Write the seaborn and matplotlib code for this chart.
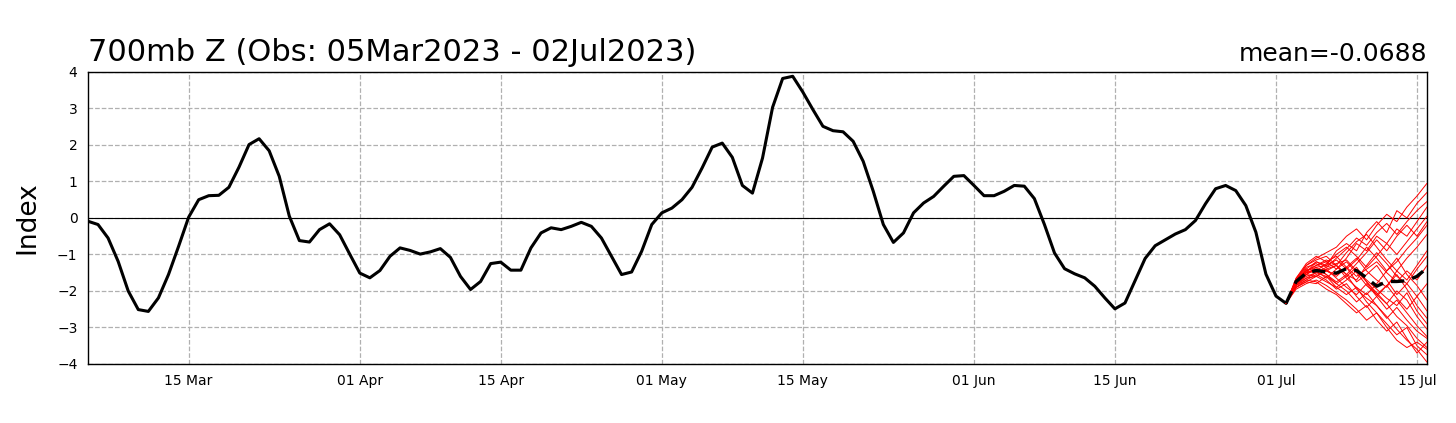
import numpy as np
import pandas as pd
import matplotlib
matplotlib.use('Agg')
import matplotlib.pyplot as plt
import matplotlib.dates as mdates
import seaborn as sns

# observed daily index, 05Mar2023 .. 02Jul2023
obs_start = '2023-03-05'
obs_values = [
    -0.09, -0.18, -0.55, -1.19, -2.00, -2.51, -2.56, -2.19, -1.55, -0.78,
    0.02, 0.50, 0.61, 0.62, 0.84, 1.39, 2.01, 2.17, 1.84, 1.14,
    0.05, -0.62, -0.66, -0.32, -0.16, -0.46, -0.99, -1.51, -1.64, -1.44,
    -1.05, -0.82, -0.89, -0.99, -0.93, -0.84, -1.08, -1.60, -1.96, -1.74,
    -1.25, -1.21, -1.43, -1.43, -0.82, -0.41, -0.27, -0.32, -0.23, -0.12,
    -0.23, -0.55, -1.05, -1.55, -1.48, -0.91, -0.18, 0.14, 0.27, 0.50,
    0.84, 1.37, 1.94, 2.05, 1.66, 0.89, 0.68, 1.64, 3.03, 3.82,
    3.88, 3.45, 2.97, 2.51, 2.39, 2.36, 2.10, 1.55, 0.73, -0.18,
    -0.67, -0.41, 0.14, 0.41, 0.59, 0.87, 1.14, 1.16, 0.89, 0.61,
    0.61, 0.73, 0.89, 0.87, 0.53, -0.18, -0.96, -1.39, -1.53, -1.64,
    -1.87, -2.19, -2.49, -2.33, -1.72, -1.11, -0.76, -0.60, -0.44, -0.32,
    -0.07, 0.39, 0.80, 0.89, 0.75, 0.34, -0.39, -1.54, -2.14, -2.34,
]

# forecast ensemble, 02Jul2023 .. 16Jul2023
fc_start = '2023-07-02'
ens_mean = [-2.34, -1.74, -1.51, -1.44, -1.48, -1.51, -1.39, -1.44,
            -1.64, -1.87, -1.74, -1.74, -1.72, -1.60, -1.37]
members = [
    [-2.34, -1.70, -1.30, -1.10, -0.95, -0.80, -0.50, -0.30, -0.60, -0.20, 0.10, -0.10, 0.30, 0.60, 0.95],
    [-2.34, -1.80, -1.50, -1.20, -1.30, -0.90, -0.70, -0.90, -0.40, -0.10, -0.40, 0.20, 0.00, 0.40, 0.70],
    [-2.34, -1.65, -1.25, -1.05, -1.20, -1.40, -1.10, -0.70, -0.90, -0.50, -0.70, -0.30, -0.50, -0.10, 0.30],
    [-2.34, -1.90, -1.75, -1.80, -1.60, -1.90, -2.10, -1.90, -2.30, -2.60, -2.90, -3.20, -3.00, -3.50, -3.75],
    [-2.34, -1.95, -1.80, -1.70, -1.85, -2.05, -2.25, -2.50, -2.80, -2.60, -3.00, -3.35, -3.55, -3.40, -3.60],
    [-2.34, -1.80, -1.50, -1.45, -1.65, -1.40, -1.20, -1.50, -1.85, -2.10, -2.35, -2.70, -2.95, -3.30, -3.55],
    [-2.34, -1.75, -1.45, -1.30, -1.20, -1.05, -1.35, -1.75, -1.55, -1.30, -1.70, -2.10, -1.80, -1.40, -1.05],
    [-2.34, -1.85, -1.70, -1.55, -1.70, -1.95, -1.80, -2.15, -2.45, -2.15, -1.85, -2.20, -2.50, -2.15, -1.80],
    [-2.34, -1.70, -1.35, -1.25, -1.45, -1.60, -1.35, -1.10, -1.45, -1.70, -1.90, -1.45, -1.10, -0.80, -0.45],
    [-2.34, -1.80, -1.55, -1.35, -1.55, -1.75, -1.55, -1.95, -2.20, -2.40, -2.75, -2.45, -2.80, -3.10, -3.30],
    [-2.34, -1.75, -1.40, -1.45, -1.25, -1.00, -0.80, -1.05, -1.35, -1.05, -0.70, -1.00, -0.65, -0.30, 0.05],
    [-2.34, -1.90, -1.75, -1.60, -1.45, -1.30, -1.65, -1.90, -2.10, -1.80, -1.45, -1.10, -1.55, -1.85, -2.25],
    [-2.34, -1.80, -1.60, -1.50, -1.35, -1.25, -1.15, -1.45, -1.70, -1.95, -2.20, -2.40, -2.05, -2.55, -2.90],
    [-2.34, -1.70, -1.45, -1.50, -1.40, -1.30, -0.95, -0.65, -0.45, -0.80, -1.15, -1.45, -1.70, -1.30, -0.90],
    [-2.34, -1.85, -1.65, -1.50, -1.60, -1.80, -2.00, -2.30, -2.05, -2.40, -2.70, -3.05, -3.35, -3.60, -3.95],
    [-2.34, -1.65, -1.30, -1.15, -1.05, -1.30, -1.55, -1.25, -0.95, -0.60, -0.90, -0.50, -0.20, -0.50, -0.10],
    [-2.34, -1.80, -1.65, -1.60, -1.75, -1.90, -1.70, -1.45, -1.75, -2.10, -1.85, -1.55, -1.95, -2.40, -2.75],
    [-2.34, -1.75, -1.45, -1.30, -1.15, -1.30, -1.55, -1.70, -1.30, -0.95, -1.25, -1.60, -1.80, -2.15, -2.55],
    [-2.34, -1.85, -1.55, -1.60, -1.40, -1.65, -1.90, -2.10, -1.80, -2.15, -2.50, -2.25, -2.60, -2.95, -3.25],
    [-2.34, -1.80, -1.45, -1.35, -1.30, -1.15, -1.40, -1.15, -0.80, -1.10, -1.45, -1.20, -0.85, -0.55, -0.20],
    [-2.34, -1.75, -1.55, -1.40, -1.55, -1.80, -1.60, -1.35, -1.75, -2.05, -2.35, -2.00, -2.25, -2.70, -3.05],
    [-2.34, -1.70, -1.40, -1.20, -1.35, -1.10, -0.85, -0.55, -0.75, -0.40, -0.15, -0.45, -0.10, 0.20, 0.45],
    [-2.34, -1.90, -1.70, -1.75, -1.95, -2.10, -2.35, -2.60, -2.40, -2.80, -3.10, -2.85, -3.30, -3.70, -3.40],
    [-2.34, -1.75, -1.50, -1.40, -1.45, -1.55, -1.35, -1.60, -1.40, -1.20, -1.50, -1.75, -1.45, -1.70, -1.30],
]

title_left = '700mb Z (Obs: 05Mar2023 - 02Jul2023)'
title_right = 'mean=-0.0688'
x_ticks = ['2023-03-15', '2023-04-01', '2023-04-15', '2023-05-01', '2023-05-15',
           '2023-06-01', '2023-06-15', '2023-07-01', '2023-07-15']
y_ticks = [-4, -3, -2, -1, 0, 1, 2, 3, 4]

obs_df = pd.DataFrame({'date': pd.date_range(obs_start, periods=len(obs_values), freq='D'),
                       'value': obs_values})
fc_dates = pd.date_range(fc_start, periods=len(ens_mean), freq='D')
ens_df = pd.DataFrame([{'date': d, 'value': v, 'member': i}
                       for i, m in enumerate(members) for d, v in zip(fc_dates, m)])
mean_df = pd.DataFrame({'date': fc_dates, 'value': ens_mean})

sns.set_style('white')
plt.rcParams['font.family'] = ['DejaVu Sans']
plt.rcParams['text.color'] = 'black'

fig = plt.figure(figsize=(14.56, 4.23), dpi=100)
ax = fig.add_axes([0.0604, 0.1395, 0.9197, 0.6905])

ax.grid(True, color='#b0b0b0', linestyle='--', linewidth=0.9)
ax.axhline(0, color='black', linewidth=0.8, zorder=1)

sns.lineplot(data=obs_df, x='date', y='value', color='black', linewidth=2.2, ax=ax, zorder=3)
sns.lineplot(data=ens_df, x='date', y='value', units='member', estimator=None,
             color='red', linewidth=0.7, ax=ax, zorder=4)
sns.lineplot(data=mean_df, x='date', y='value', color='black', linewidth=2.4,
             linestyle=(0, (4, 2.5)), ax=ax, zorder=5)

ax.set_xlim(pd.Timestamp('2023-03-05'), pd.Timestamp('2023-07-16'))
ax.set_ylim(-4, 4)
ax.set_yticks(y_ticks)
ax.set_xticks(pd.to_datetime(x_ticks))
ax.xaxis.set_major_formatter(mdates.DateFormatter('%d %b'))
ax.tick_params(axis='both', labelsize=10, length=4, width=1, direction='out',
               colors='black', labelcolor='black')
for s in ax.spines.values():
    s.set_visible(True)
    s.set_color('black')
    s.set_linewidth(1)

ax.set_xlabel('')
ax.set_ylabel('Index', fontsize=19, color='black', labelpad=12)
ax.set_title(title_left, loc='left', fontsize=22, color='black', pad=8)
ax.set_title(title_right, loc='right', fontsize=18, color='black', pad=8)

fig.savefig('out.png', dpi=100)
